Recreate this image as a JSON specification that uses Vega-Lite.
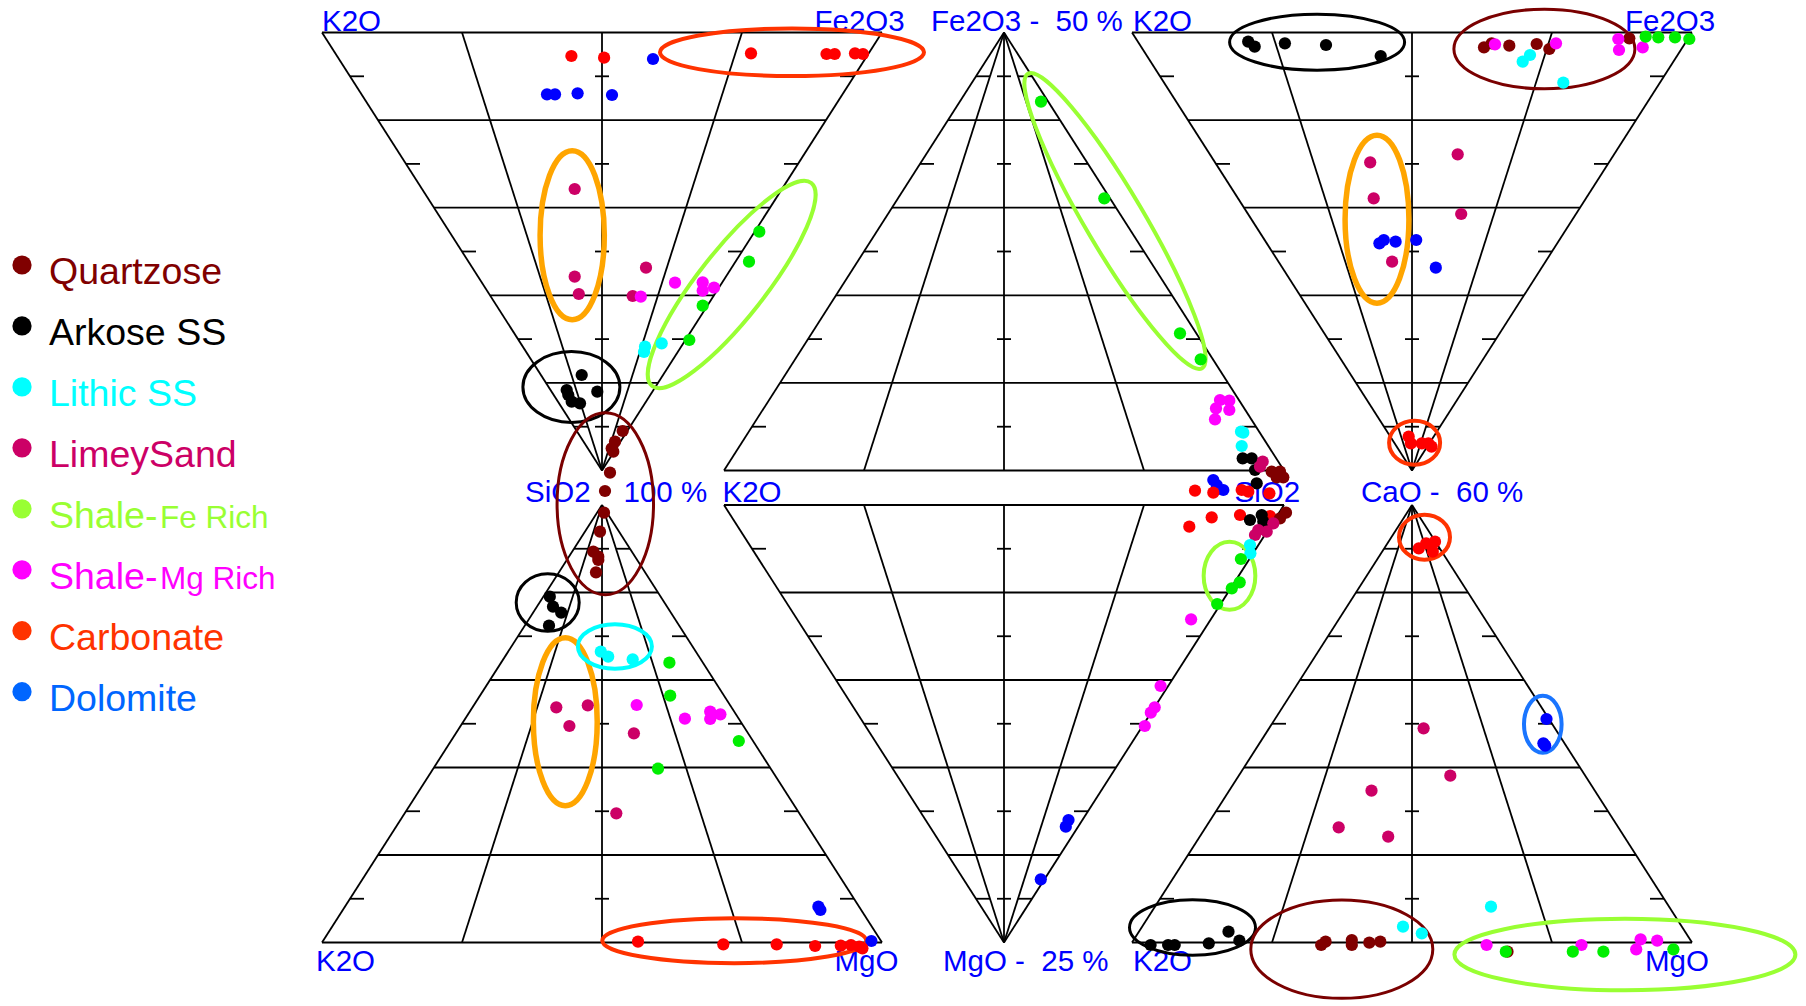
{
 "$schema": "https://vega.github.io/schema/vega-lite/v6.json",
 "width": 1806, "height": 1006,
 "autosize": {"type": "fit", "contains": "padding"},
 "padding": 0,
 "background": "white",
 "config": {"view": {"stroke": null}},
 "datasets": {
  "rules": [
   {"x":322,"y":32.5,"x2":882,"y2":32.5},{"x":322,"y":32.5,"x2":602,"y2":470.5},{"x":882,"y":32.5,"x2":602,"y2":470.5},
   {"x":462,"y":32.5,"x2":602,"y2":470.5},{"x":602,"y":32.5,"x2":602,"y2":470.5},{"x":742,"y":32.5,"x2":602,"y2":470.5},
   {"x":378,"y":120.1,"x2":826,"y2":120.1},{"x":434,"y":207.7,"x2":770,"y2":207.7},{"x":490,"y":295.3,"x2":714,"y2":295.3},{"x":546,"y":382.9,"x2":658,"y2":382.9},
   {"x":350,"y":76.3,"x2":364,"y2":76.3},{"x":595,"y":76.3,"x2":609,"y2":76.3},{"x":840,"y":76.3,"x2":854,"y2":76.3},
   {"x":406,"y":163.9,"x2":420,"y2":163.9},{"x":595,"y":163.9,"x2":609,"y2":163.9},{"x":784,"y":163.9,"x2":798,"y2":163.9},
   {"x":462,"y":251.5,"x2":476,"y2":251.5},{"x":595,"y":251.5,"x2":609,"y2":251.5},{"x":728,"y":251.5,"x2":742,"y2":251.5},
   {"x":518,"y":339.1,"x2":532,"y2":339.1},{"x":595,"y":339.1,"x2":609,"y2":339.1},{"x":672,"y":339.1,"x2":686,"y2":339.1},
   {"x":574,"y":426.7,"x2":588,"y2":426.7},{"x":595,"y":426.7,"x2":609,"y2":426.7},{"x":616,"y":426.7,"x2":630,"y2":426.7},

   {"x":322,"y":942.5,"x2":882,"y2":942.5},{"x":322,"y":942.5,"x2":602,"y2":505},{"x":882,"y":942.5,"x2":602,"y2":505},
   {"x":462,"y":942.5,"x2":602,"y2":505},{"x":602,"y":942.5,"x2":602,"y2":505},{"x":742,"y":942.5,"x2":602,"y2":505},
   {"x":546,"y":592.5,"x2":658,"y2":592.5},{"x":490,"y":680,"x2":714,"y2":680},{"x":434,"y":767.5,"x2":770,"y2":767.5},{"x":378,"y":855,"x2":826,"y2":855},
   {"x":574,"y":548.75,"x2":588,"y2":548.75},{"x":595,"y":548.75,"x2":609,"y2":548.75},{"x":616,"y":548.75,"x2":630,"y2":548.75},
   {"x":518,"y":636.25,"x2":532,"y2":636.25},{"x":595,"y":636.25,"x2":609,"y2":636.25},{"x":672,"y":636.25,"x2":686,"y2":636.25},
   {"x":462,"y":723.75,"x2":476,"y2":723.75},{"x":595,"y":723.75,"x2":609,"y2":723.75},{"x":728,"y":723.75,"x2":742,"y2":723.75},
   {"x":406,"y":811.25,"x2":420,"y2":811.25},{"x":595,"y":811.25,"x2":609,"y2":811.25},{"x":784,"y":811.25,"x2":798,"y2":811.25},
   {"x":350,"y":898.75,"x2":364,"y2":898.75},{"x":595,"y":898.75,"x2":609,"y2":898.75},{"x":840,"y":898.75,"x2":854,"y2":898.75},

   {"x":724,"y":470.5,"x2":1284,"y2":470.5},{"x":724,"y":470.5,"x2":1004,"y2":32.5},{"x":1284,"y":470.5,"x2":1004,"y2":32.5},
   {"x":864,"y":470.5,"x2":1004,"y2":32.5},{"x":1004,"y":470.5,"x2":1004,"y2":32.5},{"x":1144,"y":470.5,"x2":1004,"y2":32.5},
   {"x":948,"y":120.1,"x2":1060,"y2":120.1},{"x":892,"y":207.7,"x2":1116,"y2":207.7},{"x":836,"y":295.3,"x2":1172,"y2":295.3},{"x":780,"y":382.9,"x2":1228,"y2":382.9},
   {"x":976,"y":76.3,"x2":990,"y2":76.3},{"x":997,"y":76.3,"x2":1011,"y2":76.3},{"x":1018,"y":76.3,"x2":1032,"y2":76.3},
   {"x":920,"y":163.9,"x2":934,"y2":163.9},{"x":997,"y":163.9,"x2":1011,"y2":163.9},{"x":1074,"y":163.9,"x2":1088,"y2":163.9},
   {"x":864,"y":251.5,"x2":878,"y2":251.5},{"x":997,"y":251.5,"x2":1011,"y2":251.5},{"x":1130,"y":251.5,"x2":1144,"y2":251.5},
   {"x":808,"y":339.1,"x2":822,"y2":339.1},{"x":997,"y":339.1,"x2":1011,"y2":339.1},{"x":1186,"y":339.1,"x2":1200,"y2":339.1},
   {"x":752,"y":426.7,"x2":766,"y2":426.7},{"x":997,"y":426.7,"x2":1011,"y2":426.7},{"x":1242,"y":426.7,"x2":1256,"y2":426.7},

   {"x":724,"y":505,"x2":1284,"y2":505},{"x":724,"y":505,"x2":1004,"y2":942.5},{"x":1284,"y":505,"x2":1004,"y2":942.5},
   {"x":864,"y":505,"x2":1004,"y2":942.5},{"x":1004,"y":505,"x2":1004,"y2":942.5},{"x":1144,"y":505,"x2":1004,"y2":942.5},
   {"x":780,"y":592.5,"x2":1228,"y2":592.5},{"x":836,"y":680,"x2":1172,"y2":680},{"x":892,"y":767.5,"x2":1116,"y2":767.5},{"x":948,"y":855,"x2":1060,"y2":855},
   {"x":752,"y":548.75,"x2":766,"y2":548.75},{"x":997,"y":548.75,"x2":1011,"y2":548.75},{"x":1242,"y":548.75,"x2":1256,"y2":548.75},
   {"x":808,"y":636.25,"x2":822,"y2":636.25},{"x":997,"y":636.25,"x2":1011,"y2":636.25},{"x":1186,"y":636.25,"x2":1200,"y2":636.25},
   {"x":864,"y":723.75,"x2":878,"y2":723.75},{"x":997,"y":723.75,"x2":1011,"y2":723.75},{"x":1130,"y":723.75,"x2":1144,"y2":723.75},
   {"x":920,"y":811.25,"x2":934,"y2":811.25},{"x":997,"y":811.25,"x2":1011,"y2":811.25},{"x":1074,"y":811.25,"x2":1088,"y2":811.25},
   {"x":976,"y":898.75,"x2":990,"y2":898.75},{"x":997,"y":898.75,"x2":1011,"y2":898.75},{"x":1018,"y":898.75,"x2":1032,"y2":898.75},

   {"x":1132,"y":32.5,"x2":1692,"y2":32.5},{"x":1132,"y":32.5,"x2":1412,"y2":470.5},{"x":1692,"y":32.5,"x2":1412,"y2":470.5},
   {"x":1272,"y":32.5,"x2":1412,"y2":470.5},{"x":1412,"y":32.5,"x2":1412,"y2":470.5},{"x":1552,"y":32.5,"x2":1412,"y2":470.5},
   {"x":1188,"y":120.1,"x2":1636,"y2":120.1},{"x":1244,"y":207.7,"x2":1580,"y2":207.7},{"x":1300,"y":295.3,"x2":1524,"y2":295.3},{"x":1356,"y":382.9,"x2":1468,"y2":382.9},
   {"x":1160,"y":76.3,"x2":1174,"y2":76.3},{"x":1405,"y":76.3,"x2":1419,"y2":76.3},{"x":1650,"y":76.3,"x2":1664,"y2":76.3},
   {"x":1216,"y":163.9,"x2":1230,"y2":163.9},{"x":1405,"y":163.9,"x2":1419,"y2":163.9},{"x":1594,"y":163.9,"x2":1608,"y2":163.9},
   {"x":1272,"y":251.5,"x2":1286,"y2":251.5},{"x":1405,"y":251.5,"x2":1419,"y2":251.5},{"x":1538,"y":251.5,"x2":1552,"y2":251.5},
   {"x":1328,"y":339.1,"x2":1342,"y2":339.1},{"x":1405,"y":339.1,"x2":1419,"y2":339.1},{"x":1482,"y":339.1,"x2":1496,"y2":339.1},
   {"x":1384,"y":426.7,"x2":1398,"y2":426.7},{"x":1405,"y":426.7,"x2":1419,"y2":426.7},{"x":1426,"y":426.7,"x2":1440,"y2":426.7},

   {"x":1132,"y":942.5,"x2":1692,"y2":942.5},{"x":1132,"y":942.5,"x2":1412,"y2":505},{"x":1692,"y":942.5,"x2":1412,"y2":505},
   {"x":1272,"y":942.5,"x2":1412,"y2":505},{"x":1412,"y":942.5,"x2":1412,"y2":505},{"x":1552,"y":942.5,"x2":1412,"y2":505},
   {"x":1356,"y":592.5,"x2":1468,"y2":592.5},{"x":1300,"y":680,"x2":1524,"y2":680},{"x":1244,"y":767.5,"x2":1580,"y2":767.5},{"x":1188,"y":855,"x2":1636,"y2":855},
   {"x":1384,"y":548.75,"x2":1398,"y2":548.75},{"x":1405,"y":548.75,"x2":1419,"y2":548.75},{"x":1426,"y":548.75,"x2":1440,"y2":548.75},
   {"x":1328,"y":636.25,"x2":1342,"y2":636.25},{"x":1405,"y":636.25,"x2":1419,"y2":636.25},{"x":1482,"y":636.25,"x2":1496,"y2":636.25},
   {"x":1272,"y":723.75,"x2":1286,"y2":723.75},{"x":1405,"y":723.75,"x2":1419,"y2":723.75},{"x":1538,"y":723.75,"x2":1552,"y2":723.75},
   {"x":1216,"y":811.25,"x2":1230,"y2":811.25},{"x":1405,"y":811.25,"x2":1419,"y2":811.25},{"x":1594,"y":811.25,"x2":1608,"y2":811.25},
   {"x":1160,"y":898.75,"x2":1174,"y2":898.75},{"x":1405,"y":898.75,"x2":1419,"y2":898.75},{"x":1650,"y":898.75,"x2":1664,"y2":898.75}
  ],
  "labels": [
   {"t":"K2O","x":322,"y":30.5},
   {"t":"Fe2O3","x":814.5,"y":30.5},
   {"t":"Fe2O3 -\u00a0 50 %","x":931,"y":30.5},
   {"t":"K2O","x":1133,"y":30.5},
   {"t":"Fe2O3","x":1625,"y":30.5},
   {"t":"SiO2","x":525,"y":501.5},
   {"t":"100 %","x":623.5,"y":501.5},
   {"t":"K2O","x":722.5,"y":501.5},
   {"t":"SiO2","x":1234.5,"y":501.5},
   {"t":"CaO -\u00a0 60 %","x":1361,"y":501.5},
   {"t":"K2O","x":316,"y":970.5},
   {"t":"MgO","x":834.5,"y":970.5},
   {"t":"MgO -\u00a0 25 %","x":943,"y":970.5},
   {"t":"K2O","x":1133,"y":970.5},
   {"t":"MgO","x":1645,"y":970.5}
  ],
  "rings": [
   {"id":"e1","ring":"Carbonate","x":792,"y":52.3,"major":264,"tilt":0},
   {"id":"e2","ring":"LimeySand","x":572.2,"y":235.3,"major":169,"tilt":90},
   {"id":"e3","ring":"Shale-Fe Rich","x":731.7,"y":284.5,"major":258,"tilt":308.1},
   {"id":"e4","ring":"Arkose SS","x":571.4,"y":387,"major":97,"tilt":0},
   {"id":"e5","ring":"Quartzose","x":605.3,"y":503.8,"major":182,"tilt":90},
   {"id":"e6","ring":"Arkose SS","x":547.7,"y":602.5,"major":63,"tilt":0},
   {"id":"e7","ring":"Lithic SS","x":614.9,"y":646.5,"major":74,"tilt":0},
   {"id":"e8","ring":"LimeySand","x":565.3,"y":721.7,"major":168,"tilt":90},
   {"id":"e9","ring":"Carbonate","x":734.3,"y":940.7,"major":264,"tilt":0},
   {"id":"e10","ring":"Shale-Fe Rich","x":1115,"y":221,"major":342,"tilt":59.4},
   {"id":"e11","ring":"Shale-Fe Rich","x":1229.5,"y":575.8,"major":68,"tilt":90},
   {"id":"e12","ring":"Arkose SS","x":1192.5,"y":927.5,"major":126,"tilt":0},
   {"id":"e13","ring":"Arkose SS","x":1317.1,"y":42.2,"major":175,"tilt":0},
   {"id":"e14","ring":"Quartzose","x":1544.4,"y":49,"major":181,"tilt":0},
   {"id":"e15","ring":"LimeySand","x":1377,"y":219.2,"major":168,"tilt":90},
   {"id":"e16","ring":"Carbonate","x":1414.6,"y":442.7,"major":51,"tilt":0},
   {"id":"e17","ring":"Carbonate","x":1424.5,"y":537.2,"major":51,"tilt":0},
   {"id":"e18","ring":"Dolomite","x":1542.8,"y":724.3,"major":57,"tilt":90},
   {"id":"e19","ring":"Quartzose","x":1341.8,"y":949.2,"major":182,"tilt":0},
   {"id":"e20","ring":"Shale-Fe Rich","x":1624.9,"y":954.5,"major":341,"tilt":0}
  ],
  "samples": [
   {"cls":"Carbonate","x":571.4,"y":56},{"cls":"Carbonate","x":604.1,"y":57.7},{"cls":"Carbonate","x":751,"y":53.3},{"cls":"Carbonate","x":826.5,"y":54},{"cls":"Carbonate","x":834.7,"y":54},{"cls":"Carbonate","x":855,"y":53.3},{"cls":"Carbonate","x":863,"y":54},
   {"cls":"Dolomite","x":653,"y":59},{"cls":"Dolomite","x":547,"y":94.3},{"cls":"Dolomite","x":555,"y":94.3},{"cls":"Dolomite","x":577.6,"y":93.3},{"cls":"Dolomite","x":612,"y":95},
   {"cls":"LimeySand","x":574.7,"y":189},{"cls":"LimeySand","x":574.7,"y":276.7},{"cls":"LimeySand","x":578.8,"y":294},{"cls":"LimeySand","x":646,"y":267.7},{"cls":"LimeySand","x":632.7,"y":296},
   {"cls":"Shale-Mg Rich","x":640.8,"y":296.7},{"cls":"Shale-Mg Rich","x":675,"y":282.7},{"cls":"Shale-Mg Rich","x":702.7,"y":282.3},{"cls":"Shale-Mg Rich","x":702.7,"y":290.7},{"cls":"Shale-Mg Rich","x":714,"y":287.7},
   {"cls":"Shale-Fe Rich","x":759.3,"y":231.7},{"cls":"Shale-Fe Rich","x":749,"y":261.7},{"cls":"Shale-Fe Rich","x":702.7,"y":305.7},{"cls":"Shale-Fe Rich","x":689.3,"y":340},
   {"cls":"Lithic SS","x":645,"y":346.7},{"cls":"Lithic SS","x":644,"y":352},{"cls":"Lithic SS","x":661.7,"y":343.3},
   {"cls":"Arkose SS","x":581.7,"y":375},{"cls":"Arkose SS","x":566.7,"y":390},{"cls":"Arkose SS","x":568.3,"y":395},{"cls":"Arkose SS","x":571.7,"y":401.7},{"cls":"Arkose SS","x":580,"y":403.3},{"cls":"Arkose SS","x":597.3,"y":391.7},
   {"cls":"Quartzose","x":622.7,"y":431},{"cls":"Quartzose","x":615,"y":441.7},{"cls":"Quartzose","x":611.7,"y":448.3},{"cls":"Quartzose","x":613.3,"y":451.7},{"cls":"Quartzose","x":610,"y":472.7},{"cls":"Quartzose","x":605,"y":491},

   {"cls":"Quartzose","x":604,"y":512.7},{"cls":"Quartzose","x":600,"y":531.7},{"cls":"Quartzose","x":593.3,"y":551.7},{"cls":"Quartzose","x":598.3,"y":556.7},{"cls":"Quartzose","x":598.3,"y":560},{"cls":"Quartzose","x":596,"y":572.3},
   {"cls":"Arkose SS","x":549.8,"y":596.7},{"cls":"Arkose SS","x":553,"y":606.7},{"cls":"Arkose SS","x":561.2,"y":612.7},{"cls":"Arkose SS","x":549,"y":625.7},
   {"cls":"Lithic SS","x":600.8,"y":651.7},{"cls":"Lithic SS","x":608.2,"y":656.7},{"cls":"Lithic SS","x":632.7,"y":659.3},
   {"cls":"Shale-Fe Rich","x":669.4,"y":662.7},{"cls":"Shale-Fe Rich","x":670.2,"y":695.7},{"cls":"Shale-Fe Rich","x":738.8,"y":741},{"cls":"Shale-Fe Rich","x":658,"y":768.7},
   {"cls":"LimeySand","x":556.3,"y":707.3},{"cls":"LimeySand","x":587.8,"y":705.3},{"cls":"LimeySand","x":569.4,"y":726},{"cls":"LimeySand","x":633.9,"y":733.3},{"cls":"LimeySand","x":616.3,"y":813.3},
   {"cls":"Shale-Mg Rich","x":636.7,"y":705},{"cls":"Shale-Mg Rich","x":684.9,"y":718.7},{"cls":"Shale-Mg Rich","x":710.2,"y":711.7},{"cls":"Shale-Mg Rich","x":720.4,"y":714.3},{"cls":"Shale-Mg Rich","x":710.2,"y":719},
   {"cls":"Dolomite","x":818.4,"y":906.7},{"cls":"Dolomite","x":820.4,"y":910},{"cls":"Dolomite","x":871.4,"y":941},
   {"cls":"Carbonate","x":638,"y":941.7},{"cls":"Carbonate","x":723.3,"y":944.3},{"cls":"Carbonate","x":776.7,"y":944.3},{"cls":"Carbonate","x":815.1,"y":946},{"cls":"Carbonate","x":840.8,"y":945.7},{"cls":"Carbonate","x":851,"y":945},{"cls":"Carbonate","x":859.2,"y":946.7},{"cls":"Carbonate","x":862.4,"y":948.3},

   {"cls":"Shale-Fe Rich","x":1041,"y":101.7},{"cls":"Shale-Fe Rich","x":1104.3,"y":198.3},{"cls":"Shale-Fe Rich","x":1180,"y":333.3},{"cls":"Shale-Fe Rich","x":1200.7,"y":359.3},
   {"cls":"Shale-Mg Rich","x":1220,"y":400},{"cls":"Shale-Mg Rich","x":1229.3,"y":400.7},{"cls":"Shale-Mg Rich","x":1216,"y":408.3},{"cls":"Shale-Mg Rich","x":1229.3,"y":410},{"cls":"Shale-Mg Rich","x":1215,"y":419.3},
   {"cls":"Lithic SS","x":1241,"y":431.7},{"cls":"Lithic SS","x":1243.3,"y":432.7},{"cls":"Lithic SS","x":1241.7,"y":446},
   {"cls":"Arkose SS","x":1242.7,"y":458.3},{"cls":"Arkose SS","x":1251.7,"y":458.3},{"cls":"Arkose SS","x":1255,"y":470},{"cls":"Arkose SS","x":1256.7,"y":483.3},
   {"cls":"LimeySand","x":1262.7,"y":461.7},{"cls":"LimeySand","x":1260,"y":466.7},
   {"cls":"Quartzose","x":1271.7,"y":471.7},{"cls":"Quartzose","x":1280,"y":471.7},{"cls":"Quartzose","x":1283.3,"y":477.3},{"cls":"Quartzose","x":1276.7,"y":477.3},
   {"cls":"Dolomite","x":1213.3,"y":480},{"cls":"Dolomite","x":1216.7,"y":485},{"cls":"Dolomite","x":1223.3,"y":490},
   {"cls":"Carbonate","x":1195,"y":490.7},{"cls":"Carbonate","x":1213.3,"y":492.7},{"cls":"Carbonate","x":1241.7,"y":490},{"cls":"Carbonate","x":1248.3,"y":491.7},{"cls":"Carbonate","x":1269.4,"y":493.3},

   {"cls":"Carbonate","x":1211.7,"y":517.3},{"cls":"Carbonate","x":1189.3,"y":526.7},{"cls":"Carbonate","x":1240,"y":515},{"cls":"Carbonate","x":1270,"y":516},
   {"cls":"Arkose SS","x":1250,"y":520},{"cls":"Arkose SS","x":1261.7,"y":515},{"cls":"Arkose SS","x":1263.3,"y":521.7},
   {"cls":"Quartzose","x":1286,"y":512.7},{"cls":"Quartzose","x":1280,"y":518.3},
   {"cls":"LimeySand","x":1273.3,"y":523.3},{"cls":"LimeySand","x":1258.3,"y":530},{"cls":"LimeySand","x":1255,"y":535},{"cls":"LimeySand","x":1266.7,"y":531.7},
   {"cls":"Lithic SS","x":1250,"y":545},{"cls":"Lithic SS","x":1250.4,"y":553.3},
   {"cls":"Shale-Fe Rich","x":1240.9,"y":559},{"cls":"Shale-Fe Rich","x":1239.7,"y":582.3},{"cls":"Shale-Fe Rich","x":1231.8,"y":588.3},{"cls":"Shale-Fe Rich","x":1217.2,"y":604},
   {"cls":"Shale-Mg Rich","x":1191.1,"y":619.3},{"cls":"Shale-Mg Rich","x":1160.6,"y":686},{"cls":"Shale-Mg Rich","x":1154.7,"y":707.3},{"cls":"Shale-Mg Rich","x":1150.8,"y":712.7},{"cls":"Shale-Mg Rich","x":1144.8,"y":726},
   {"cls":"Dolomite","x":1068.5,"y":820},{"cls":"Dolomite","x":1065.8,"y":826.7},{"cls":"Dolomite","x":1040.8,"y":879.3},

   {"cls":"Arkose SS","x":1248.2,"y":41.7},{"cls":"Arkose SS","x":1254.7,"y":46.7},{"cls":"Arkose SS","x":1284.9,"y":43.3},{"cls":"Arkose SS","x":1326,"y":45},{"cls":"Arkose SS","x":1380.7,"y":56},
   {"cls":"Quartzose","x":1484,"y":47.3},{"cls":"Quartzose","x":1491.7,"y":43.3},{"cls":"Quartzose","x":1509.3,"y":45.7},{"cls":"Quartzose","x":1536.7,"y":44},{"cls":"Quartzose","x":1549.3,"y":49},{"cls":"Quartzose","x":1629.3,"y":38.3},
   {"cls":"Shale-Mg Rich","x":1495,"y":44.3},{"cls":"Shale-Mg Rich","x":1556,"y":43.3},{"cls":"Shale-Mg Rich","x":1618.3,"y":39},{"cls":"Shale-Mg Rich","x":1619,"y":50},{"cls":"Shale-Mg Rich","x":1642.7,"y":47.3},
   {"cls":"Lithic SS","x":1530,"y":55},{"cls":"Lithic SS","x":1522.7,"y":61.7},{"cls":"Lithic SS","x":1563.3,"y":82.7},
   {"cls":"Shale-Fe Rich","x":1645.7,"y":36.7},{"cls":"Shale-Fe Rich","x":1658.3,"y":37.3},{"cls":"Shale-Fe Rich","x":1675,"y":37.3},{"cls":"Shale-Fe Rich","x":1689.3,"y":39},
   {"cls":"LimeySand","x":1370.2,"y":162.3},{"cls":"LimeySand","x":1373.7,"y":198.3},{"cls":"LimeySand","x":1457.7,"y":154.3},{"cls":"LimeySand","x":1461.2,"y":214},{"cls":"LimeySand","x":1392.1,"y":261.7},
   {"cls":"Dolomite","x":1379.4,"y":243.3},{"cls":"Dolomite","x":1383.8,"y":240},{"cls":"Dolomite","x":1395.6,"y":241.7},{"cls":"Dolomite","x":1416.2,"y":240},{"cls":"Dolomite","x":1435.8,"y":267.7},
   {"cls":"Carbonate","x":1408.7,"y":436.7},{"cls":"Carbonate","x":1410.9,"y":443.3},{"cls":"Carbonate","x":1421.8,"y":443.3},{"cls":"Carbonate","x":1428.4,"y":443.3},{"cls":"Carbonate","x":1431.5,"y":446.7},

   {"cls":"Carbonate","x":1418.8,"y":548.3},{"cls":"Carbonate","x":1426.2,"y":543.3},{"cls":"Carbonate","x":1435,"y":541.7},{"cls":"Carbonate","x":1432.8,"y":551.7},
   {"cls":"Dolomite","x":1546.5,"y":719},{"cls":"Dolomite","x":1543.4,"y":743.3},{"cls":"Dolomite","x":1545.2,"y":745.7},
   {"cls":"LimeySand","x":1423.6,"y":728.3},{"cls":"LimeySand","x":1450.3,"y":775.7},{"cls":"LimeySand","x":1371.5,"y":790.7},{"cls":"LimeySand","x":1338.7,"y":827.3},{"cls":"LimeySand","x":1388.2,"y":836.7},
   {"cls":"Lithic SS","x":1491,"y":906.7},{"cls":"Lithic SS","x":1403,"y":926.7},{"cls":"Lithic SS","x":1421.8,"y":933.3},
   {"cls":"Arkose SS","x":1150.6,"y":945},{"cls":"Arkose SS","x":1168.1,"y":945},{"cls":"Arkose SS","x":1174.7,"y":945},{"cls":"Arkose SS","x":1208.8,"y":943.3},{"cls":"Arkose SS","x":1228.5,"y":931.7},{"cls":"Arkose SS","x":1239.4,"y":940.7},
   {"cls":"Quartzose","x":1321.2,"y":945},{"cls":"Quartzose","x":1325.6,"y":941.7},{"cls":"Quartzose","x":1351.8,"y":940},{"cls":"Quartzose","x":1351.8,"y":945},{"cls":"Quartzose","x":1369.3,"y":942.7},{"cls":"Quartzose","x":1380.3,"y":941.7},{"cls":"Quartzose","x":1507.5,"y":951.7},
   {"cls":"Shale-Mg Rich","x":1486.6,"y":945},{"cls":"Shale-Mg Rich","x":1581.5,"y":945},{"cls":"Shale-Mg Rich","x":1640.6,"y":939.3},{"cls":"Shale-Mg Rich","x":1657.2,"y":940.7},{"cls":"Shale-Mg Rich","x":1636.2,"y":949.3},
   {"cls":"Shale-Fe Rich","x":1505.8,"y":951.7},{"cls":"Shale-Fe Rich","x":1572.8,"y":951.7},{"cls":"Shale-Fe Rich","x":1603.4,"y":951.7},{"cls":"Shale-Fe Rich","x":1673.4,"y":949.3}
  ],
  "legend": [
   {"cls":"Quartzose","lead":"Quartzose","tail":""},
   {"cls":"Arkose SS","lead":"Arkose SS","tail":""},
   {"cls":"Lithic SS","lead":"Lithic SS","tail":""},
   {"cls":"LimeySand","lead":"LimeySand","tail":""},
   {"cls":"Shale-Fe Rich","lead":"Shale-","tail":"Fe Rich"},
   {"cls":"Shale-Mg Rich","lead":"Shale-","tail":"Mg Rich"},
   {"cls":"Carbonate","lead":"Carbonate","tail":""},
   {"cls":"Dolomite","lead":"Dolomite","tail":""}
  ]
 },
 "layer": [
  {
   "encoding": {
    "x": {"field": "x", "type": "quantitative", "scale": {"domain": [0, 1806], "nice": false, "zero": false}, "axis": null},
    "y": {"field": "y", "type": "quantitative", "scale": {"domain": [0, 1006], "nice": false, "zero": false, "reverse": true}, "axis": null}
   },
   "layer": [
    {
     "data": {"name": "rules"},
     "mark": {"type": "rule", "color": "#000000", "strokeWidth": 1.8},
     "encoding": {"x2": {"field": "x2"}, "y2": {"field": "y2"}}
    },
    {
     "data": {"name": "labels"},
     "mark": {"type": "text", "align": "left", "baseline": "alphabetic", "font": "Liberation Sans", "fontSize": 29.5, "fill": "#0000FF"},
     "encoding": {"text": {"field": "t", "type": "nominal"}}
    },
    {
     "data": {"name": "rings"},
     "encoding": {
      "shape": {"field": "id", "type": "nominal", "legend": null, "scale": {
        "domain": ["e1","e2","e3","e4","e5","e6","e7","e8","e9","e10","e11","e12","e13","e14","e15","e16","e17","e18","e19","e20"],
        "range": [
         "M-1,0A1,0.18,0,1,0,1,0A1,0.18,0,1,0,-1,0Z",
         "M-1,0A1,0.38,0,1,0,1,0A1,0.38,0,1,0,-1,0Z",
         "M-1,0A1,0.26,0,1,0,1,0A1,0.26,0,1,0,-1,0Z",
         "M-1,0A1,0.73,0,1,0,1,0A1,0.73,0,1,0,-1,0Z",
         "M-1,0A1,0.53,0,1,0,1,0A1,0.53,0,1,0,-1,0Z",
         "M-1,0A1,0.91,0,1,0,1,0A1,0.91,0,1,0,-1,0Z",
         "M-1,0A1,0.6,0,1,0,1,0A1,0.6,0,1,0,-1,0Z",
         "M-1,0A1,0.38,0,1,0,1,0A1,0.38,0,1,0,-1,0Z",
         "M-1,0A1,0.17,0,1,0,1,0A1,0.17,0,1,0,-1,0Z",
         "M-1,0A1,0.17,0,1,0,1,0A1,0.17,0,1,0,-1,0Z",
         "M-1,0A1,0.76,0,1,0,1,0A1,0.76,0,1,0,-1,0Z",
         "M-1,0A1,0.44,0,1,0,1,0A1,0.44,0,1,0,-1,0Z",
         "M-1,0A1,0.32,0,1,0,1,0A1,0.32,0,1,0,-1,0Z",
         "M-1,0A1,0.44,0,1,0,1,0A1,0.44,0,1,0,-1,0Z",
         "M-1,0A1,0.38,0,1,0,1,0A1,0.38,0,1,0,-1,0Z",
         "M-1,0A1,0.86,0,1,0,1,0A1,0.86,0,1,0,-1,0Z",
         "M-1,0A1,0.88,0,1,0,1,0A1,0.88,0,1,0,-1,0Z",
         "M-1,0A1,0.66,0,1,0,1,0A1,0.66,0,1,0,-1,0Z",
         "M-1,0A1,0.54,0,1,0,1,0A1,0.54,0,1,0,-1,0Z",
         "M-1,0A1,0.21,0,1,0,1,0A1,0.21,0,1,0,-1,0Z"
        ]}},
      "size": {"field": "major", "type": "quantitative", "legend": null, "scale": {"type": "pow", "exponent": 2, "domain": [0, 400], "range": [0, 160000]}},
      "angle": {"field": "tilt", "type": "quantitative", "scale": null},
      "stroke": {"field": "ring", "type": "nominal", "legend": null, "scale": {
        "domain": ["Carbonate","LimeySand","Shale-Fe Rich","Arkose SS","Quartzose","Lithic SS","Dolomite"],
        "range": ["#FF3300","#FFA500","#99FF33","#000000","#7A0000","#00FFFF","#1A75FF"]}}
     },
     "layer": [
      {"transform": [{"filter": "datum.ring === 'LimeySand'"}], "mark": {"type": "point", "filled": false, "opacity": 1, "strokeWidth": 5.5}},
      {"transform": [{"filter": "datum.ring === 'Arkose SS' || datum.ring === 'Quartzose'"}], "mark": {"type": "point", "filled": false, "opacity": 1, "strokeWidth": 3}},
      {"transform": [{"filter": "datum.ring !== 'LimeySand' && datum.ring !== 'Arkose SS' && datum.ring !== 'Quartzose'"}], "mark": {"type": "point", "filled": false, "opacity": 1, "strokeWidth": 4}}
     ]
    },
    {
     "data": {"name": "samples"},
     "mark": {"type": "circle", "size": 150, "opacity": 1},
     "encoding": {
      "color": {"field": "cls", "type": "nominal", "legend": null, "scale": {
        "domain": ["Quartzose","Arkose SS","Lithic SS","LimeySand","Shale-Fe Rich","Shale-Mg Rich","Carbonate","Dolomite"],
        "range": ["#800000","#000000","#00FFFF","#CC0066","#00EE00","#FF00FF","#FF0000","#0000FF"]}}
     }
    }
   ]
  },
  {
   "data": {"name": "legend"},
   "encoding": {
    "y": {"field": "cls", "type": "nominal", "axis": null, "scale": {"type": "point", "padding": 0,
      "domain": ["Quartzose","Arkose SS","Lithic SS","LimeySand","Shale-Fe Rich","Shale-Mg Rich","Carbonate","Dolomite"],
      "range": [265, 691.7]}},
    "color": {"field": "cls", "type": "nominal", "legend": null, "scale": {
      "domain": ["Quartzose","Arkose SS","Lithic SS","LimeySand","Shale-Fe Rich","Shale-Mg Rich","Carbonate","Dolomite"],
      "range": ["#800000","#000000","#00FFFF","#CC0066","#99FF33","#FF00FF","#FF3300","#0066FF"]}}
   },
   "layer": [
    {
     "mark": {"type": "circle", "size": 370, "opacity": 1},
     "encoding": {"x": {"datum": 22, "type": "quantitative", "axis": null, "scale": {"domain": [0, 1806], "nice": false, "zero": false}}}
    },
    {
     "mark": {"type": "text", "align": "left", "baseline": "alphabetic", "font": "Liberation Sans", "fontSize": 37.5, "dy": 19},
     "encoding": {"x": {"datum": 49, "type": "quantitative", "axis": null, "scale": {"domain": [0, 1806], "nice": false, "zero": false}}, "text": {"field": "lead", "type": "nominal"}}
    },
    {
     "transform": [{"filter": "datum.tail !== ''"}],
     "mark": {"type": "text", "align": "left", "baseline": "alphabetic", "font": "Liberation Sans", "fontSize": 31.5, "dy": 19},
     "encoding": {"x": {"datum": 160, "type": "quantitative", "axis": null, "scale": {"domain": [0, 1806], "nice": false, "zero": false}}, "text": {"field": "tail", "type": "nominal"}}
    }
   ]
  }
 ],
 "resolve": {"scale": {"y": "independent", "color": "independent"}}
}
